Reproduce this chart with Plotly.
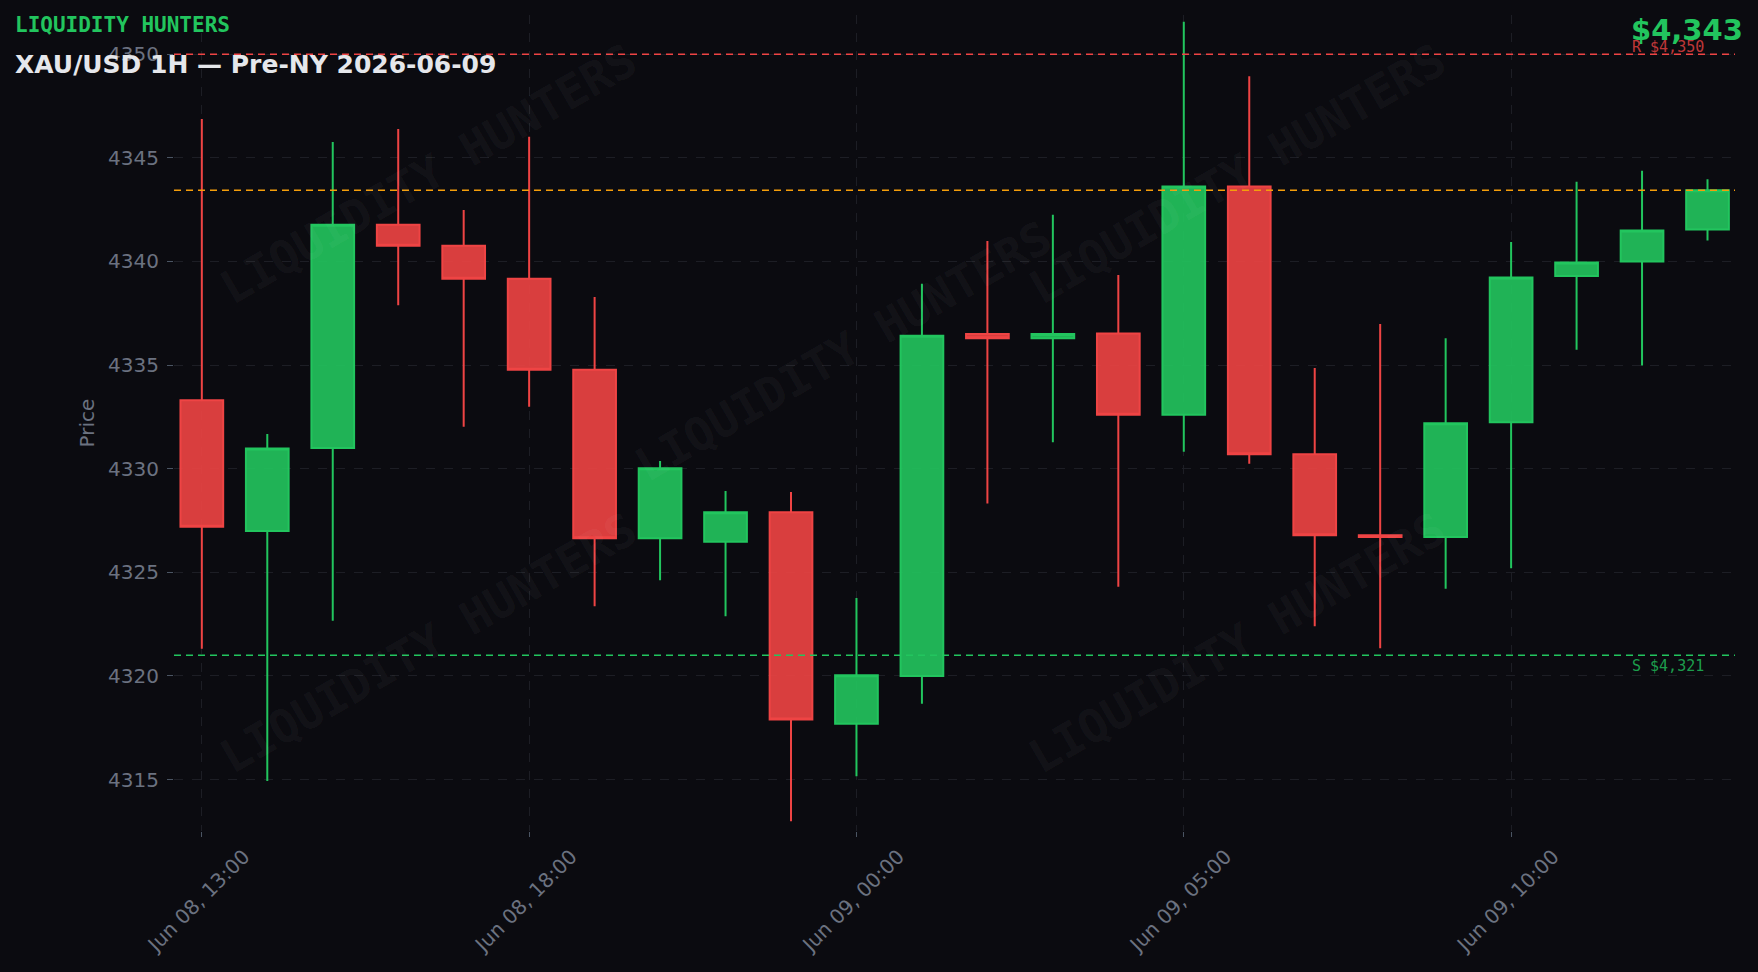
import plotly.graph_objects as go

# ---------------- data ----------------
times = [
    "Jun 08, 13:00", "Jun 08, 14:00", "Jun 08, 15:00", "Jun 08, 16:00",
    "Jun 08, 17:00", "Jun 08, 18:00", "Jun 08, 19:00", "Jun 08, 20:00",
    "Jun 08, 22:00", "Jun 08, 23:00", "Jun 09, 00:00", "Jun 09, 01:00",
    "Jun 09, 02:00", "Jun 09, 03:00", "Jun 09, 04:00", "Jun 09, 05:00",
    "Jun 09, 06:00", "Jun 09, 07:00", "Jun 09, 08:00", "Jun 09, 09:00",
    "Jun 09, 10:00", "Jun 09, 11:00", "Jun 09, 12:00", "Jun 09, 13:00",
]
opens = [4333.30, 4327.00, 4331.00, 4341.77, 4340.76, 4339.17, 4334.78, 4326.65,
         4326.48, 4327.90, 4317.70, 4320.00, 4336.50, 4336.30, 4336.52, 4332.60,
         4343.61, 4330.70, 4326.79, 4326.70, 4332.24, 4339.30, 4340.00, 4341.54]
highs = [4346.87, 4331.68, 4345.76, 4346.39, 4342.48, 4346.01, 4338.29, 4330.37,
         4328.93, 4328.88, 4323.76, 4338.92, 4340.99, 4342.25, 4339.35, 4351.56,
         4348.94, 4334.86, 4336.98, 4336.30, 4340.94, 4343.84, 4344.37, 4343.97]
lows = [4321.31, 4314.93, 4322.67, 4337.89, 4332.03, 4332.99, 4323.36, 4324.62,
        4322.88, 4312.99, 4315.16, 4318.66, 4328.32, 4331.28, 4324.31, 4330.82,
        4330.24, 4322.40, 4321.34, 4324.21, 4325.20, 4335.74, 4334.98, 4341.01]
closes = [4327.20, 4330.97, 4341.77, 4340.76, 4339.17, 4334.78, 4326.65, 4330.02,
          4327.90, 4317.90, 4320.03, 4336.42, 4336.30, 4336.50, 4332.60, 4343.61,
          4330.70, 4326.79, 4326.71, 4332.19, 4339.22, 4339.95, 4341.49, 4343.44]

resistance = 4350
support = 4321
last_close = closes[-1]

tick_idx = [0, 5, 10, 15, 20]
tick_vals = [times[i] for i in tick_idx]
y_ticks = [4315, 4320, 4325, 4330, 4335, 4340, 4345, 4350]

brand = "LIQUIDITY HUNTERS"
title = "XAU/USD 1H — Pre-NY 2026-06-09"

# watermark centres (paper coords)
wm_x = [0.163, 0.163, 0.429, 0.681, 0.681]
wm_y = [0.805, 0.230, 0.588, 0.805, 0.230]

# ---------------- style ----------------
BG = "#0b0b10"
GREEN = "#22c55e"
RED = "#ef4444"
ORANGE = "#f59e0b"
GRID = "#1d1e25"
MUTED = "#6b7280"
SANS = "DejaVu Sans"
MONO = "DejaVu Sans Mono"

fig = go.Figure()
fig.add_trace(go.Candlestick(
    x=times, open=opens, high=highs, low=lows, close=closes,
    increasing=dict(line=dict(color=GREEN, width=2), fillcolor="rgba(34,197,94,0.9)"),
    decreasing=dict(line=dict(color=RED, width=2), fillcolor="rgba(239,68,68,0.9)"),
    showlegend=False,
))

# reference lines
for yv, col in [(resistance, RED), (last_close, ORANGE), (support, GREEN)]:
    fig.add_shape(type="line", xref="paper", x0=0, x1=1, yref="y", y0=yv, y1=yv,
                  line=dict(color=col, width=1.5, dash="7px,5px"), layer="above")

ann = []
# watermarks
for wx, wy in zip(wm_x, wm_y):
    ann.append(dict(text=f"<b>{brand}</b>", xref="paper", yref="paper", x=wx, y=wy,
                    xanchor="center", yanchor="middle",
                    showarrow=False, textangle=-30,
                    font=dict(family=MONO, size=46, color="rgba(255,255,255,0.05)")))

ann.append(dict(text=f"<b>{brand}</b>", xref="paper", yref="paper",
                x=(13 - 174) / 1561, y=(831 - 25.5) / 816, xanchor="left", yanchor="middle",
                showarrow=False, font=dict(family=MONO, size=21, color=GREEN)))
ann.append(dict(text=f"<b>{title}</b>", xref="paper", yref="paper",
                x=(13 - 174) / 1561, y=(831 - 64) / 816, xanchor="left", yanchor="middle",
                showarrow=False, font=dict(family=SANS, size=25, color="#e5e7eb")))
ann.append(dict(text=f"<b>${last_close:,.0f}</b>", xref="paper", yref="paper",
                x=(1745 - 174) / 1561, y=(831 - 29.5) / 816, xanchor="right", yanchor="middle",
                showarrow=False, font=dict(family=SANS, size=29, color=GREEN)))
ann.append(dict(text=f"R ${resistance:,}", xref="paper", yref="y",
                x=(1706 - 174) / 1561, y=resistance, xanchor="right", yanchor="bottom",
                yshift=-4,
                showarrow=False, font=dict(family=MONO, size=15, color="rgba(239,68,68,0.8)")))
ann.append(dict(text=f"S ${support:,}", xref="paper", yref="y",
                x=(1706 - 174) / 1561, y=support, xanchor="right", yanchor="top",
                showarrow=False, font=dict(family=MONO, size=15, color="rgba(34,197,94,0.8)")))

fig.update_layout(
    width=1758, height=972,
    margin=dict(l=174, r=23, t=15, b=141),
    paper_bgcolor=BG, plot_bgcolor=BG,
    font=dict(family=SANS, size=20, color=MUTED),
    annotations=ann,
    showlegend=False,
    boxgap=0.068, boxgroupgap=0.3,
    xaxis=dict(
        type="category", range=[-0.425, 23.42],
        rangeslider=dict(visible=False),
        tickmode="array", tickvals=tick_vals, ticktext=tick_vals,
        tickangle=-45, ticklabelshift=42,
        tickfont=dict(family=SANS, size=20, color=MUTED),
        ticks="outside", ticklen=5, tickcolor="#4b5563",
        showgrid=True, gridcolor=GRID, griddash="dash", gridwidth=1,
        showline=False, zeroline=False,
    ),
    yaxis=dict(
        range=[4312.52, 4351.89],
        tickmode="array", tickvals=y_ticks,
        tickfont=dict(family=SANS, size=20, color=MUTED),
        ticks="outside", ticklen=6, tickcolor="#4b5563", ticklabelstandoff=4,
        showgrid=True, gridcolor=GRID, griddash="dash", gridwidth=1,
        showline=False, zeroline=False,
        title=dict(text="Price", font=dict(family=SANS, size=20, color=MUTED), standoff=8),
    ),
)

fig.write_html(
    "out.html",
    config={"displayModeBar": False},
    post_script="document.body.style.margin='0';document.body.style.background='#0b0b10';"
                "document.body.style.overflow='hidden';",
)
